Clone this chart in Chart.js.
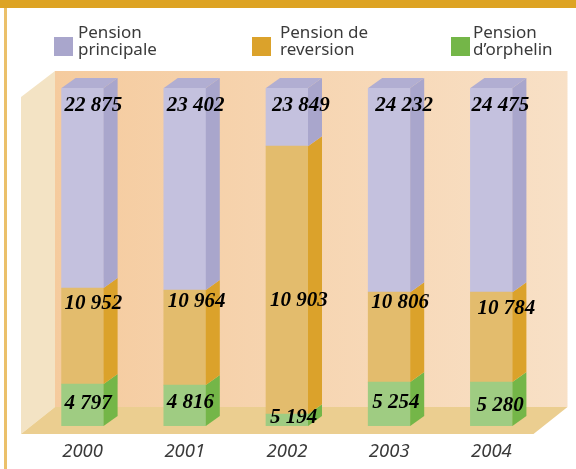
<!DOCTYPE html>
<html>
<head>
<meta charset="utf-8">
<script src="https://cdn.jsdelivr.net/npm/chart.js@4"></script>
<style>
  html, body { margin: 0; padding: 0; background: #fff; }
  canvas { display: block; }
</style>
</head>
<body>
<canvas id="chart" width="576" height="469"></canvas>
<script>
const years = ['2000', '2001', '2002', '2003', '2004'];

// printed figures
const principale = ['22 875', '23 402', '23 849', '24 232', '24 475'];
const reversion = ['10 952', '10 964', '10 903', '10 806', '10 784'];
const orphelin = ['4 797', '4 816', '5 194', '5 254', '5 280'];

// height of each block, in % of the column
// (2002 is drawn out of proportion in the original)
const principaleHeight = [59.2, 59.8, 17.2, 60.4, 60.4];
const reversionHeight = [28.4, 28.1, 79.3, 26.6, 26.6];
const orphelinHeight = [12.4, 12.1, 3.5, 13.0, 13.0];

// where the printed figures sit: share of column height, px from the bar's left edge
const principaleLabelY = [94.7, 94.7, 94.7, 94.7, 94.7];
const reversionLabelY = [36.1, 36.7, 37.0, 36.4, 34.6];
const orphelinLabelY = [6.5, 6.8, 2.4, 6.8, 5.9];
const principaleLabelX = [3, 3, 6, 7, 1];
const reversionLabelX = [3, 4, 4, 3, 7];
const orphelinLabelX = [3, 3, 4, 4, 6];

const ctx = document.getElementById('chart').getContext('2d');

const sideX = 14;
const sideY = 10;

const frame = {
  id: 'frame',
  beforeDatasetsDraw(chart) {
    const c = chart.ctx;
    const a = chart.chartArea;
    c.save();
    c.fillStyle = '#dda323';
    c.fillRect(0, 0, chart.width, 8);
    c.fillStyle = '#ebc06a';
    c.fillRect(4, 8, 3, chart.height - 8);

    const fl = a.left - 10.5;
    const fr = a.right - 9;
    const fb = a.bottom + 8;
    const bl = fl + 34;
    const br = fr + 34;
    const bb = fb - 27;
    const bt = a.top - 17;

    const wall = c.createLinearGradient(bl, 0, br, 0);
    wall.addColorStop(0, '#f5cb9e');
    wall.addColorStop(1, '#f8e0c6');
    c.fillStyle = wall;
    c.fillRect(bl, bt, br - bl, bb - bt);

    c.fillStyle = '#f3e3c4';
    c.beginPath();
    c.moveTo(fl, bt + 26);
    c.lineTo(bl, bt);
    c.lineTo(bl, bb);
    c.lineTo(fl, fb);
    c.closePath();
    c.fill();

    c.fillStyle = '#ebce90';
    c.beginPath();
    c.moveTo(fl, fb);
    c.lineTo(bl, bb);
    c.lineTo(br, bb);
    c.lineTo(fr, fb);
    c.closePath();
    c.fill();
    c.restore();
  }
};

const blocks = {
  id: 'blocks',
  afterDatasetsDraw(chart) {
    const c = chart.ctx;
    c.save();
    chart.data.datasets.forEach((ds, i) => {
      chart.getDatasetMeta(i).data.forEach(bar => {
        const right = bar.x + bar.width / 2;
        const left = bar.x - bar.width / 2;
        c.fillStyle = ds.sideColor;
        c.beginPath();
        c.moveTo(right, bar.y);
        c.lineTo(right + sideX, bar.y - sideY);
        c.lineTo(right + sideX, bar.base - sideY);
        c.lineTo(right, bar.base);
        c.closePath();
        c.fill();
        if (ds.topColor) {
          c.fillStyle = ds.topColor;
          c.beginPath();
          c.moveTo(left, bar.y);
          c.lineTo(left + sideX, bar.y - sideY);
          c.lineTo(right + sideX, bar.y - sideY);
          c.lineTo(right, bar.y);
          c.closePath();
          c.fill();
        }
      });
    });

    c.fillStyle = '#000';
    c.font = 'italic bold 21px "Liberation Serif"';
    c.textBaseline = 'middle';
    c.textAlign = 'left';
    const yScale = chart.scales.y;
    chart.data.datasets.forEach((ds, i) => {
      chart.getDatasetMeta(i).data.forEach((bar, j) => {
        const x = bar.x - bar.width / 2 + ds.labelX[j];
        c.fillText(ds.printed[j], x, yScale.getPixelForValue(ds.labelY[j]));
      });
    });
    c.restore();
  }
};

const legendSpots = [
  { box: 54, text: 78 },
  { box: 252, text: 280 },
  { box: 451, text: 473 }
];

const legendBlocks = {
  id: 'legendBlocks',
  afterDraw(chart) {
    const c = chart.ctx;
    c.save();
    c.font = '17px "Noto Sans"';
    c.textBaseline = 'middle';
    c.textAlign = 'left';
    chart.data.datasets.slice().reverse().forEach((ds, i) => {
      c.fillStyle = ds.sideColor;
      c.fillRect(legendSpots[i].box, 37, 19, 19);
      c.fillStyle = '#3a3a3a';
      c.fillText(ds.label[0], legendSpots[i].text, 33);
      c.fillText(ds.label[1], legendSpots[i].text, 50);
    });
    c.restore();
  }
};

const chart = new Chart(ctx, {
  type: 'bar',
  data: {
    labels: years,
    datasets: [
      {
        label: ['Pension', 'd\u2019orphelin'],
        data: orphelinHeight,
        printed: orphelin,
        labelY: orphelinLabelY,
        labelX: orphelinLabelX,
        backgroundColor: '#9fcc82',
        sideColor: '#74b648'
      },
      {
        label: ['Pension de', 'reversion'],
        data: reversionHeight,
        printed: reversion,
        labelY: reversionLabelY,
        labelX: reversionLabelX,
        backgroundColor: '#e3bc6d',
        sideColor: '#dba22b'
      },
      {
        label: ['Pension', 'principale'],
        data: principaleHeight,
        printed: principale,
        labelY: principaleLabelY,
        labelX: principaleLabelX,
        backgroundColor: '#c4c1de',
        sideColor: '#a9a6cc',
        topColor: '#b1aed2'
      }
    ]
  },
  options: {
    responsive: false,
    animation: false,
    barThickness: 42,
    layout: { padding: { left: 31.5, right: 33.5, top: 88, bottom: 0 } },
    plugins: {
      legend: { display: false },
      tooltip: { enabled: false }
    },
    scales: {
      x: {
        stacked: true,
        grid: { display: false, drawTicks: false },
        border: { display: false },
        afterFit: scale => { scale.height = 43; },
        ticks: {
          padding: 15,
          color: '#3a3a3a',
          font: { family: '"Noto Sans"', size: 18.5, style: 'italic' }
        }
      },
      y: {
        display: false,
        stacked: true,
        min: 0,
        max: 100
      }
    }
  },
  plugins: [frame, blocks, legendBlocks]
});
</script>
</body>
</html>
